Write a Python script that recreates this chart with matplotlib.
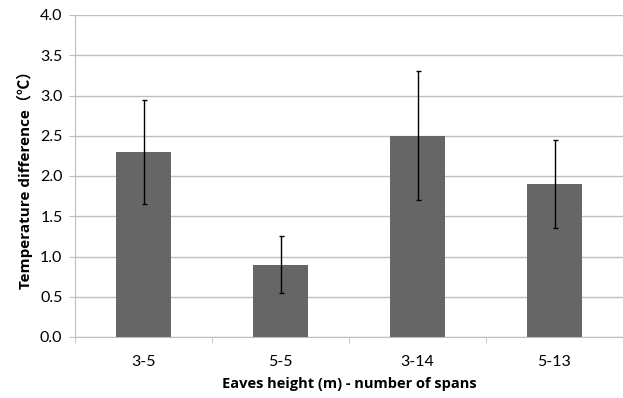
import matplotlib
matplotlib.use("Agg")
import matplotlib.pyplot as plt
import numpy as np

categories = ["3-5", "5-5", "3-14", "5-13"]
values = [2.3, 0.9, 2.5, 1.9]
errors = [0.65, 0.35, 0.8, 0.55]
y_ticks = [0.0, 0.5, 1.0, 1.5, 2.0, 2.5, 3.0, 3.5, 4.0]

fam = ["Lato", "Noto Sans CJK SC", "DejaVu Sans"]
bold_fam = ["Open Sans", "Noto Sans CJK SC", "DejaVu Sans"]
plt.rcParams["font.family"] = fam

fig = plt.figure(figsize=(6.23, 3.98), dpi=100)
ax = fig.add_axes([75/623, 1-337/398, 548/623, (337-15)/398])

x = np.arange(len(categories))
ax.bar(x, values, width=0.4, color="#666666", zorder=3,
       yerr=errors, error_kw=dict(ecolor="black", elinewidth=1.0, capsize=1.8, capthick=1.0, zorder=4))

ax.set_xlim(-0.5, len(categories) - 0.5)
ax.set_ylim(0, 4.0)
ax.set_yticks(y_ticks)
ax.set_yticklabels([f"{v:.1f}" for v in y_ticks], fontsize=11.5)
ax.yaxis.grid(True, color="#bfbfbf", linewidth=1.0, zorder=0)

ax.set_xticks(x)
ax.set_xticklabels(categories, fontsize=11.5)
ax.set_xticks(np.arange(-0.5, len(categories) + 0.5, 1.0), minor=True)
ax.tick_params(axis="x", which="major", length=0, pad=13)
ax.tick_params(axis="x", which="minor", length=4, color="#bfbfbf", direction="out")
ax.tick_params(axis="y", length=4, color="#bfbfbf", direction="out", pad=5)

for s in ["top", "right"]:
    ax.spines[s].set_visible(False)
for s in ["left", "bottom"]:
    ax.spines[s].set_color("#bfbfbf")

ax.set_xlabel("Eaves height (m) - number of spans", fontsize=10.5, fontweight="bold",
              family=bold_fam, labelpad=6)
ax.set_ylabel("Temperature difference（℃）", fontsize=11, fontweight="bold",
              family=bold_fam, labelpad=5)

fig.savefig("out.png", dpi=100)
